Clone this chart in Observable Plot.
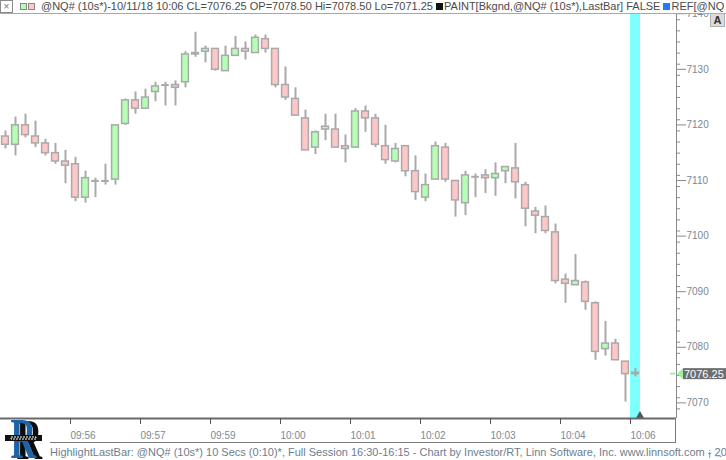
<!DOCTYPE html>
<html><head><meta charset="utf-8">
<script src="https://cdn.jsdelivr.net/npm/d3@7"></script>
<script src="https://cdn.jsdelivr.net/npm/@observablehq/plot@0.6"></script>
<style>
body{margin:0;background:#fff;}
#wrap{position:relative;width:726px;height:460px;overflow:hidden;font-family:"Liberation Sans",Arial,sans-serif;background:#fff;}
#hdr{position:absolute;left:0;top:0;width:726px;height:13px;background:#fff;border-bottom:1px solid #a8a8a8;font-size:11px;line-height:13px;color:#4a4a4a;white-space:nowrap;z-index:3;}
#hdr .xb{position:absolute;left:0;top:0;width:11px;height:11px;border:1px solid #8a8a8a;font-size:10px;line-height:11px;text-align:center;color:#777;}
#hdr .sq{position:absolute;top:3px;width:5px;height:5px;border:1px solid #888;}
#hdr .txt{position:absolute;left:41px;top:0;}
#hdr .ins{display:inline-block;width:7px;height:7px;margin-right:1px;}
#abtn{position:absolute;left:710px;top:13px;width:13px;height:12px;background:#dcdcdc;border:1px solid #b0b0b0;font:bold 11px "Liberation Sans",Arial,sans-serif;line-height:12px;text-align:center;color:#333;z-index:3;}
#chart{position:absolute;left:0;top:0;}
#box{position:absolute;left:50px;top:418px;width:625px;height:24px;border-right:1px solid #7a7a7a;border-bottom:1px solid #7a7a7a;}
#foot{position:absolute;left:50px;top:445px;font-size:11px;line-height:14px;color:#6e7d8e;white-space:nowrap;}
#logo{position:absolute;left:0;top:418px;width:48px;height:42px;overflow:hidden;}
#logo svg{position:absolute;left:0;top:0;}
</style></head>
<body>
<div id="wrap">
  <div id="chart"></div>
  <div id="hdr">
    <div class="xb">×</div>
    <div class="sq" style="left:20px;background:#b5ffb5"></div>
    <div class="sq" style="left:28px;background:#ffc8c8"></div>
    <div class="txt">@NQ# (10s*)-10/11/18 10:06 CL=7076.25 OP=7078.50 Hi=7078.50 Lo=7071.25 <span class="ins" style="background:#111"></span>PAINT[Bkgnd,@NQ# (10s*),LastBar] FALSE <span class="ins" style="background:#1e7bff"></span>REF[@NQ</div>
  </div>
  <div id="abtn">A</div>
  <div id="box"></div>
  <div id="logo">
    <svg width="48" height="42">
      <defs>
        <filter id="rsh" x="-20%" y="-20%" width="160%" height="140%">
          <feFlood flood-color="#111" result="f"/>
          <feComposite in="f" in2="SourceAlpha" operator="in" result="s"/>
          <feOffset in="s" dx="10" dy="1" result="o"/>
          <feMerge><feMergeNode in="o"/><feMergeNode in="SourceGraphic"/></feMerge>
        </filter>
      </defs>
      <g transform="translate(0,42) scale(0.62,1)">
        <text x="17" y="-2" font-family="Liberation Serif, DejaVu Serif, serif" font-weight="bold" font-size="57" fill="#1f64a8" filter="url(#rsh)">R</text>
      </g>
      <rect x="5" y="17" width="37" height="6" fill="#111"></rect>
      <rect x="11" y="19" width="25" height="2" fill="none" stroke="#fff" stroke-width="1" stroke-dasharray="2 1"></rect>
    </svg>
  </div>
  <div id="foot">HighlightLastBar: @NQ# (10s*) 10 Secs (0:10)*, Full Session 16:30-16:15 - Chart by Investor/RT, Linn Software, Inc. www.linnsoft.com - 20</div>
</div>
<script>
// OHLC per 10-second bar (64 bars)
const open = [
  7119, 7117.5, 7121, 7119, 7117.75, 7116, 7114.5, 7114, 7108, 7111,
  7111, 7111.25, 7121.25, 7125.5, 7124, 7127, 7128.25, 7128.25, 7128.75, 7133.75,
  7134.25, 7134.75, 7130.75, 7133.5, 7134.75, 7134, 7136.5, 7134.75, 7128.25, 7125.75,
  7122.25, 7117, 7120.25, 7120.25, 7117.25, 7117, 7123.5, 7122.25, 7117.25, 7114.5,
  7117.25, 7112.75, 7108, 7111.25, 7117, 7111, 7107, 7111.75, 7112, 7111.5,
  7112.75, 7113.25, 7110.25, 7105.5, 7104.5, 7101.75, 7093.25, 7092.25, 7092.75, 7089,
  7080.75, 7081.75, 7078.5, 7076.5
];
const high = [
  7120, 7122.5, 7123, 7121.75, 7118.5, 7117.75, 7116.5, 7115.25, 7112.75, 7111.5,
  7114, 7121, 7125.75, 7127, 7127.5, 7128.75, 7128.75, 7129, 7134.25, 7137.75,
  7135.25, 7134.75, 7135.25, 7137, 7136, 7137.25, 7137.25, 7134.75, 7131.5, 7127.75,
  7123.75, 7120, 7123, 7123, 7119.25, 7124, 7124.5, 7123, 7121, 7117.75,
  7117.25, 7115.5, 7112.25, 7118, 7117.75, 7111, 7112.75, 7112.25, 7113, 7114.25,
  7113.5, 7117.75, 7110.75, 7106.25, 7106.5, 7103.25, 7094.25, 7097.75, 7093, 7089.25,
  7085.75, 7082.5, 7078.5, 7077.25
];
const low = [
  7116.75, 7115.5, 7118.75, 7117, 7115.5, 7114, 7110.5, 7107.25, 7107, 7108,
  7110.25, 7110.25, 7121, 7123, 7124, 7125.25, 7124.5, 7124.5, 7127.75, 7133.25,
  7132.25, 7130.75, 7130.75, 7133.5, 7132.75, 7134, 7134, 7127.75, 7125.5, 7122.75,
  7116.5, 7115.75, 7118.25, 7117, 7114.25, 7117, 7119.75, 7117, 7114, 7114.25,
  7111.75, 7107.5, 7107.25, 7111.25, 7110.75, 7104.5, 7104.75, 7108, 7108.75, 7108.25,
  7110.5, 7107.75, 7102.75, 7101.5, 7101.5, 7092.5, 7089, 7092.25, 7087.75, 7078.75,
  7079.5, 7078.75, 7071.25, 7075.75
];
const close = [
  7117.5, 7121, 7119.25, 7117.75, 7116, 7114.5, 7113.75, 7108, 7111.5, 7111,
  7111, 7121, 7125.5, 7124, 7126, 7128, 7128.25, 7127.75, 7133.75, 7134,
  7134.75, 7131, 7133.5, 7134.75, 7134.25, 7136.75, 7134.75, 7128.25, 7126, 7122.75,
  7116.5, 7119.75, 7120.75, 7117, 7116.75, 7123.5, 7122.25, 7117.5, 7114.75, 7116.75,
  7112.75, 7109, 7110.25, 7117.25, 7111.25, 7107.5, 7112, 7111.75, 7111.5, 7112.25,
  7113.5, 7110.75, 7106, 7104.75, 7102, 7093, 7092.5, 7093, 7089.25, 7080.25,
  7081.75, 7078.75, 7076.25, 7076.25
];
// time axis: first bar of each labelled minute and its label
const timeTickBars = [7, 14, 21, 28, 35, 42, 49, 56, 63];
const timeLabels = ["09:56", "09:57", "09:59", "10:00", "10:01", "10:02", "10:03", "10:04", "10:06"];
// price axis
const priceLabels = [7070, 7080, 7090, 7100, 7110, 7120, 7130, 7140];
const priceMinor = [7070,7072,7074,7076,7078,7080,7082,7084,7086,7088,7090,7092,7094,7096,7098,7100,7102,7104,7106,7108,7110,7112,7114,7116,7118,7120,7122,7124,7126,7128,7130,7132,7134,7136,7138,7140];

const xDomain = [-0.5, 67.1];
const yDomain = [7068.27, 7140.94];

const bars = open.map((o, i) => ({i, o, h: high[i], l: low[i], c: close[i]}));
const up = bars.filter(d => d.c > d.o);
const down = bars.filter(d => d.c < d.o);
const doji = bars.filter(d => d.c === d.o);
const last = bars[bars.length - 1];
const tickPos = timeTickBars.map(b => b - 0.5);
const labelOf = new Map(tickPos.map((p, k) => [p, timeLabels[k]]));

const GRAY = "#a9a9a9";
const chart = Plot.plot({
  width: 726, height: 460,
  marginTop: 14, marginBottom: 42, marginLeft: 0, marginRight: 50,
  x: {type: "linear", domain: xDomain},
  y: {type: "linear", domain: yDomain},
  style: {background: "transparent", fontFamily: "'Liberation Sans', Arial, sans-serif", fontSize: "10px", overflow: "visible"},
  marks: [
    Plot.rect([last], {x1: d => d.i - 0.5, x2: d => d.i + 0.5, y1: () => yDomain[0], y2: () => yDomain[1], fill: "#80ffff"}),
    Plot.ruleX(bars, {x: "i", y1: "l", y2: "h", stroke: GRAY, strokeWidth: 2}),
    Plot.rect(up, {x1: d => d.i - 0.34, x2: d => d.i + 0.34, y1: "o", y2: "c", fill: "#b5ffb5", stroke: GRAY, strokeWidth: 1.5}),
    Plot.rect(down, {x1: d => d.i - 0.34, x2: d => d.i + 0.34, y1: "o", y2: "c", fill: "#ffc8c8", stroke: GRAY, strokeWidth: 1.5}),
    Plot.ruleY(doji, {y: "o", x1: d => d.i - 0.38, x2: d => d.i + 0.38, stroke: GRAY, strokeWidth: 2}),
    Plot.dot([last], {x: "i", y: () => yDomain[0], symbol: "triangle", r: 3.2, dx: 4.5, dy: -2.5, fill: "#555", stroke: "none"}),
    Plot.ruleX([xDomain[1]], {stroke: "#8a8a8a", strokeWidth: 1}),
    Plot.ruleY([yDomain[0]], {stroke: "#6a6a6a", strokeWidth: 2}),
    Plot.axisY({anchor: "right", ticks: priceMinor, tickSize: 3, tickFormat: () => "", stroke: "#8a8a8a"}),
    Plot.axisY({anchor: "right", ticks: priceLabels, tickSize: 9, tickPadding: 1, dy: -6, textAnchor: "start", tickFormat: d => String(d), stroke: "#8a8a8a", fill: "#7a8796"}),
    Plot.axisX({anchor: "bottom", ticks: tickPos, tickSize: 6, tickPadding: 7, textAnchor: "start", tickFormat: d => labelOf.get(d), stroke: "#555", fill: "#7a8796"})
  ]
});
document.getElementById("chart").appendChild(chart);

// last-price marker on the right axis, positioned with the plot's own y scale
const ys = chart.scale("y");
const py = ys.apply(last.c);
const svg = d3.select(chart);
svg.append("line").attr("x1", 670).attr("x2", 675).attr("y1", py).attr("y2", py).attr("stroke", "#9ef09e").attr("stroke-width", 2);
svg.append("path").attr("d", `M677,${py} L683,${py - 5.5} L683,${py + 5.5} Z`).attr("fill", "#9ef09e");
svg.append("rect").attr("x", 683).attr("y", py - 5.5).attr("width", 43).attr("height", 11).attr("fill", "#6e6e6e");
svg.append("text").attr("x", 684).attr("y", py).attr("dy", "0.36em").attr("fill", "#fff").attr("text-anchor", "start")
  .style("font", "11px 'Liberation Sans', Arial, sans-serif").text(d3.format(".2f")(last.c));
</script>
</body></html>
